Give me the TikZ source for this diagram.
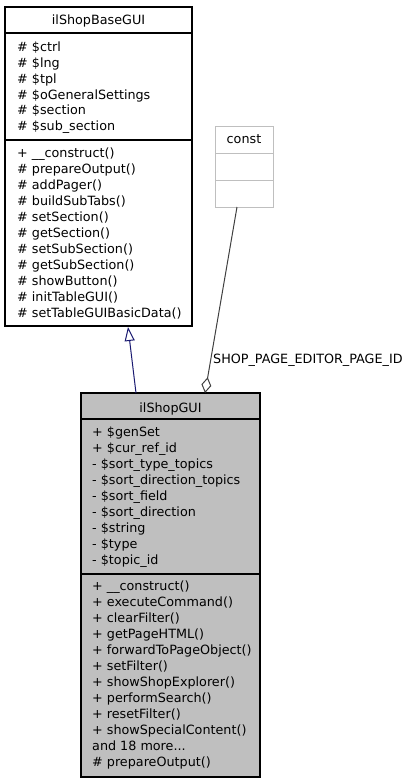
\documentclass[tikz,border=0pt]{standalone}
\usepackage{fontspec}
\setmainfont{DejaVu Sans}
\usetikzlibrary{arrows.meta}
\definecolor{boxgray}{HTML}{BFBFBF}
\definecolor{edgegray}{HTML}{404040}
\definecolor{inhblue}{HTML}{191970}
\begin{document}
\begin{tikzpicture}[x=1pt,y=-1pt,
  umlbox/.style={draw=black, line width=1.3pt, anchor=north west, inner sep=0pt, outer sep=0pt},
  sepline/.style={draw=black, line width=1.3pt},
  txt/.style={anchor=base west, inner sep=0pt, font=\fontsize{12.75}{14}\selectfont},
  ttl/.style={anchor=base, inner sep=0pt, font=\fontsize{12.75}{14}\selectfont}]
\useasboundingbox (0,0) rectangle (412,784);
% ilShopBaseGUI
\node[umlbox, fill=white, minimum width=187pt, minimum height=319pt] (base) at (5,7) {};
\draw[sepline] (5,33) -- (192,33);
\draw[sepline] (5,140) -- (192,140);
\node[ttl] (baset) at (98.5,25) {ilShopBaseGUI};
\foreach \t [count=\i from 0] in {\# \$ctrl, \# \$lng, \# \$tpl, \# \$oGeneralSettings, \# \$section, \# \$sub\_section}
  \node[txt] (ba\i) at (17,51.7+15.8*\i) {\t};
\foreach \t [count=\i from 0] in {+ \_\_construct(), \# prepareOutput(), \# addPager(), \# buildSubTabs(), \# setSection(), \# getSection(), \# setSubSection(), \# getSubSection(), \# showButton(), \# initTableGUI(), \# setTableGUIBasicData()}
  \node[txt] (bm\i) at (17,157.5+16*\i) {\t};
% const
\node[umlbox, draw=boxgray, fill=white, minimum width=58pt, minimum height=81pt, line width=1pt] (const) at (215,126) {};
\draw[draw=boxgray, line width=1pt] (215,153) -- (273,153);
\draw[draw=boxgray, line width=1pt] (215,180) -- (273,180);
\node[ttl] (constt) at (244,143.5) {const};
% ilShopGUI
\node[umlbox, fill=boxgray, minimum width=179pt, minimum height=384pt] (shop) at (81,393) {};
\draw[sepline] (81,419) -- (260,419);
\draw[sepline] (81,574) -- (260,574);
\node[ttl] (shopt) at (170.5,412.5) {ilShopGUI};
\foreach \t [count=\i from 0] in {+ \$genSet, + \$cur\_ref\_id, - \$sort\_type\_topics, - \$sort\_direction\_topics, - \$sort\_field, - \$sort\_direction, - \$string, - \$type, - \$topic\_id}
  \node[txt] (sa\i) at (92,436.7+16*\i) {\t};
\foreach \t [count=\i from 0] in {+ \_\_construct(), + executeCommand(), + clearFilter(), + getPageHTML(), + forwardToPageObject(), + setFilter(), + showShopExplorer(), + performSearch(), + resetFilter(), + showSpecialContent()}
  \node[txt] (sm\i) at (92,590.5+16*\i) {\t};
\node[txt] (sm10) at (92,750.5) {and 18 more...};
\node[txt] (sm11) at (92,766.5) {\# prepareOutput()};
% connectors
\coordinate (inhS) at (136,393);
\coordinate (inhE) at (128,327);
\draw[inhblue, line width=1pt, -{Triangle[open, length=14pt, width=10pt]}] (inhS) -- (inhE);
\coordinate (aggS) at (237,207);
\coordinate (aggE) at (205,393);
\draw[edgegray, line width=1pt, -{Diamond[open, length=16pt, width=10pt]}] (aggS) -- (aggE);
\node[txt] (agglbl) at (213,363.5) {SHOP\_PAGE\_EDITOR\_PAGE\_ID};
\end{tikzpicture}
\end{document}
